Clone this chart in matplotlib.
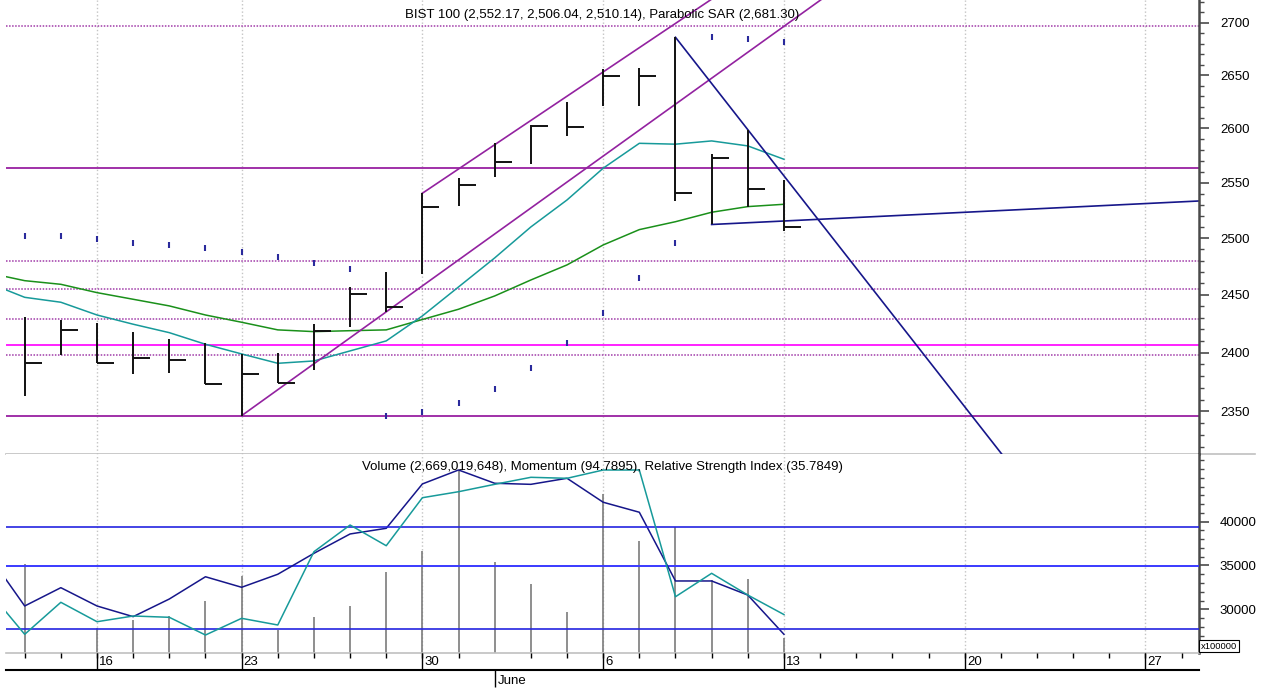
import matplotlib
matplotlib.use("Agg")
import matplotlib.pyplot as plt
from matplotlib.ticker import FixedLocator, FuncFormatter, NullFormatter
import numpy as np
import pandas as pd

plt.rcParams["font.family"] = ["Liberation Sans", "DejaVu Sans"]
plt.rcParams["font.size"] = 9.5

# --- BIST 100 daily bars, May-June 2022 ---
DATES = ["2022-05-12", "2022-05-13", "2022-05-16", "2022-05-17", "2022-05-18",
         "2022-05-20", "2022-05-23", "2022-05-24", "2022-05-25", "2022-05-26",
         "2022-05-27", "2022-05-30", "2022-05-31", "2022-06-01", "2022-06-02",
         "2022-06-03", "2022-06-06", "2022-06-07", "2022-06-08", "2022-06-09",
         "2022-06-10", "2022-06-13"]
# empty trading days kept on the right of the chart
FUTURE = ["2022-06-14", "2022-06-15", "2022-06-16", "2022-06-17", "2022-06-20",
          "2022-06-21", "2022-06-22", "2022-06-23", "2022-06-24", "2022-06-27",
          "2022-06-28"]

HIGH = [2430.4, 2428.1, 2425.2, 2417.4, 2411.7, 2408.0, 2398.8, 2399.4, 2424.4,
        2456.6, 2470.4, 2540.5, 2554.1, 2586.2, 2603.2, 2624.4, 2655.5, 2656.5,
        2686.0, 2576.4, 2598.6, 2552.17]
LOW = [2363.1, 2398.0, 2390.8, 2381.5, 2382.8, 2373.0, 2346.5, 2374.3, 2385.1,
       2421.8, 2434.8, 2468.3, 2529.0, 2555.6, 2566.9, 2593.3, 2620.9, 2620.9,
       2533.5, 2512.3, 2528.4, 2506.04]
CLOSE = [2390.8, 2419.5, 2390.8, 2395.6, 2393.7, 2373.0, 2381.5, 2374.3, 2418.6,
         2451.0, 2439.7, 2528.4, 2548.0, 2569.3, 2602.6, 2601.6, 2649.2, 2649.2,
         2541.1, 2572.5, 2544.1, 2510.14]
SAR = [2502.1, 2502.1, 2499.1, 2496.1, 2494.0, 2491.1, 2488.1, 2483.6, 2477.8,
       2472.5, 2346.5, 2349.9, 2356.9, 2369.0, 2387.1, 2408.5, 2433.9, 2465.0,
       2496.1, 2686.0, 2684.0, 2681.30]

# moving averages / oscillators: first value belongs to the day before the first bar
MA_FAST = [2460.4, 2447.8, 2443.5, 2432.4, 2424.4, 2417.1, 2407.1, 2398.8, 2390.8,
           2392.8, 2401.4, 2410.0, 2431.6, 2456.9, 2482.5, 2510.1, 2534.4, 2563.3,
           2586.2, 2585.4, 2588.4, 2583.8, 2571.5]
MA_SLOW = [2469.2, 2462.4, 2459.2, 2451.9, 2446.1, 2440.3, 2432.4, 2426.1, 2419.5,
           2418.0, 2418.8, 2419.5, 2428.5, 2437.4, 2449.0, 2463.0, 2476.3, 2494.0,
           2507.7, 2514.8, 2523.3, 2528.4, 2530.5]
MOMENTUM = [100.83, 96.94, 98.33, 96.94, 96.13, 97.47, 99.16, 98.36, 99.35, 100.94,
            102.41, 102.84, 106.21, 107.27, 106.26, 106.18, 106.64, 104.82, 104.06,
            98.84, 98.84, 97.77, 94.7895]
RSI = [45.06, 28.04, 40.59, 32.98, 35.22, 34.71, 27.76, 34.31, 31.69, 60.43, 70.9,
       62.78, 81.61, 83.96, 86.86, 89.61, 89.22, 92.47, 92.47, 42.78, 51.96, 43.45,
       35.7849]
VOLUME = [3513700000, 2516000000, 2783100000, 2877900000, 2926900000, 3098200000,
          3380100000, 2763700000, 2915500000, 3041100000, 3429200000, 3665500000,
          4590200000, 3536500000, 3288800000, 2965800000, 4316200000, 3783100000,
          3936100000, 3334500000, 3342500000, 2669019648]

# horizontal levels drawn on the price panel
LEVELS_DOTTED = [2697.2, 2480.1, 2455.1, 2428.9, 2398.0]
LEVELS_SOLID = [2563.3, 2346.3]
LEVEL_MAGENTA = 2406.8
# drawn trend lines: (bar index, price) -> (bar index, price)
CHANNEL = [(6, 2346.5, 23, 2747.0), (11, 2540.5, 20, 2746.5)]
TRENDS = [(18, 2686.0, 28, 2277.6), (19, 2512.3, 33, 2534.3)]
RSI_BANDS = [70, 30]
MOM_BASE = 100

PURPLE = "#9322a0"
NAVY = "#16168a"
TEAL = "#179a9a"
GREEN = "#1a901a"
BLUE = "#2424e0"
GRID = "#c4c4c4"
SPINE = "#4a4a4a"

days = pd.to_datetime(DATES + FUTURE)
n_all = len(days)
week_start = [i for i in range(1, n_all) if days[i].weekday() < days[i - 1].weekday()]
month_start = [i for i in range(1, n_all) if days[i].month != days[i - 1].month]
x = np.arange(len(DATES))
x_line = np.arange(-1, len(DATES))
XLIM = (-0.517, 32.48)

W, H = 1261, 693
fig = plt.figure(figsize=(W / 100, H / 100), dpi=100)
L, WD = 6 / W, 1193 / W

ax = fig.add_axes([L, 1 - 454 / H, WD, 454 / H])
axb = fig.add_axes([L, 1 - 653 / H, WD, 199 / H])
axd = fig.add_axes([L, 1 - 670 / H, WD, 17 / H])
# twins first: twinx() moves the parent's ticks back to the left
axm = axb.twinx()
axr = axb.twinx()


def right_axis(a):
    for s in ("left", "top", "bottom"):
        a.spines[s].set_visible(False)
    a.spines["right"].set_color(SPINE)
    a.spines["right"].set_linewidth(1.8)
    a.yaxis.tick_right()
    a.tick_params(axis="y", which="major", direction="out", length=7, width=1.2,
                  color=SPINE, labelsize=9.5, pad=8, left=False, right=True)
    a.tick_params(axis="y", which="minor", direction="out", length=3.4, width=1,
                  color=SPINE, left=False, right=True)
    a.set_xticks([])
    a.set_xlim(XLIM)
    for w in week_start:
        a.axvline(w, color=GRID, ls=":", lw=1, zorder=0)


# ---- price panel ----
ax.set_yscale("log")
ax.set_ylim(2314.6, 2722)
right_axis(ax)
ax.yaxis.set_major_locator(FixedLocator(np.arange(2350, 2701, 50)))
ax.yaxis.set_minor_locator(FixedLocator(np.arange(2320, 2721, 10)))
ax.yaxis.set_major_formatter(FuncFormatter(lambda v, p: f"{v:.0f}"))
ax.yaxis.set_minor_formatter(NullFormatter())
ax.plot([0, 1.047], [0, 0], transform=ax.transAxes, clip_on=False,
        color="#c0c0c0", lw=1.2)

for lv in LEVELS_DOTTED:
    ax.axhline(lv, color="#a03aa8", ls=(0, (1, 1)), lw=1.1)
for lv in LEVELS_SOLID:
    ax.axhline(lv, color="#a030a8", lw=1.4)
ax.axhline(LEVEL_MAGENTA, color="#ff22ff", lw=1.4)

ax.plot(x_line, MA_SLOW, color=GREEN, lw=1.1)
ax.plot(x_line, MA_FAST, color=TEAL, lw=1.1)

for x0, y0, x1, y1 in CHANNEL:
    ax.plot([x0, x1], [y0, y1], color=PURPLE, lw=1.2)
for x0, y0, x1, y1 in TRENDS:
    ax.plot([x0, x1], [y0, y1], color=NAVY, lw=1.2)

ax.vlines(x, LOW, HIGH, color="#111111", lw=1.4)
ax.hlines(CLOSE, x, x + 0.47, color="#111111", lw=1.4)
ax.plot(x, SAR, ls="none", marker="|", ms=4, mew=1.5, color="#2a2a9c")

ax.text(0.5, 1 - 15 / 454, f"BIST 100 ({HIGH[-1]:,.2f}, {LOW[-1]:,.2f}, "
        f"{CLOSE[-1]:,.2f}), Parabolic SAR ({SAR[-1]:,.2f})",
        transform=ax.transAxes, ha="center", va="center", fontsize=9.5)

# ---- volume / momentum / RSI panel ----
right_axis(axb)
axb.spines["bottom"].set_visible(True)
axb.spines["bottom"].set_color("#c0c0c0")
axb.spines["bottom"].set_linewidth(1.2)
axb.set_ylim(25011, 47728)
axb.yaxis.set_major_locator(FixedLocator([30000, 35000, 40000]))
axb.yaxis.set_minor_locator(FixedLocator(np.arange(26000, 47001, 1000)))
axb.yaxis.set_major_formatter(FuncFormatter(lambda v, p: f"{v:.0f}"))
axb.yaxis.set_minor_formatter(NullFormatter())
vol = np.array(VOLUME) / 1e5
axb.vlines(x, 0, vol, color="#7c7c7c", lw=1.2)
axb.text(1.0017, 0.012, "x100000", transform=axb.transAxes, ha="left",
         va="bottom", fontsize=6.8,
         bbox=dict(boxstyle="square,pad=0.18", fc="white", ec="black", lw=0.8))

for a in (axm, axr):
    a.set_axis_off()
    a.set_xlim(XLIM)
axm.set_ylim(93.369, 108.484)
axr.set_ylim(20.71, 98.75)
axm.axhline(MOM_BASE, color="#3a3aff", lw=1.4)
for b in RSI_BANDS:
    axr.axhline(b, color=BLUE, lw=1.2)
axm.plot(x_line, MOMENTUM, color=NAVY, lw=1.1)
axr.plot(x_line, RSI, color=TEAL, lw=1.1)

axr.text(0.5, 1 - 13.3 / 199,
         f"Volume ({VOLUME[-1]:,}), Momentum ({MOMENTUM[-1]:.4f}), "
         f"Relative Strength Index ({RSI[-1]:.4f})",
         transform=axr.transAxes, ha="center", va="center", fontsize=9.5)

# ---- date axis ----
axd.set_xlim(XLIM)
axd.set_ylim(0, 1)
axd.patch.set_alpha(0)
for s in ("top", "left", "right"):
    axd.spines[s].set_visible(False)
axd.spines["bottom"].set_linewidth(1.5)
axd.set_yticks([])
axd.set_xticks(month_start)
axd.set_xticklabels([])
axd.xaxis.set_minor_locator(FixedLocator(np.arange(n_all)))
axd.tick_params(axis="x", which="major", direction="out", length=12.2, width=1,
                color="black")
axd.tick_params(axis="x", which="minor", top=True, bottom=False, direction="in",
                length=3.6, width=1, color="black")
axd.vlines(week_start, 0, 1, color="black", lw=1)
for w in week_start:
    axd.text(w + 0.06, 0.45, str(days[w].day), ha="left", va="center", fontsize=9.5)
for m in month_start:
    axd.text(m + 0.075, -0.65, days[m].strftime("%B"), ha="left", va="center",
             fontsize=9.5)

fig.savefig("out.png", dpi=100, facecolor="white")
